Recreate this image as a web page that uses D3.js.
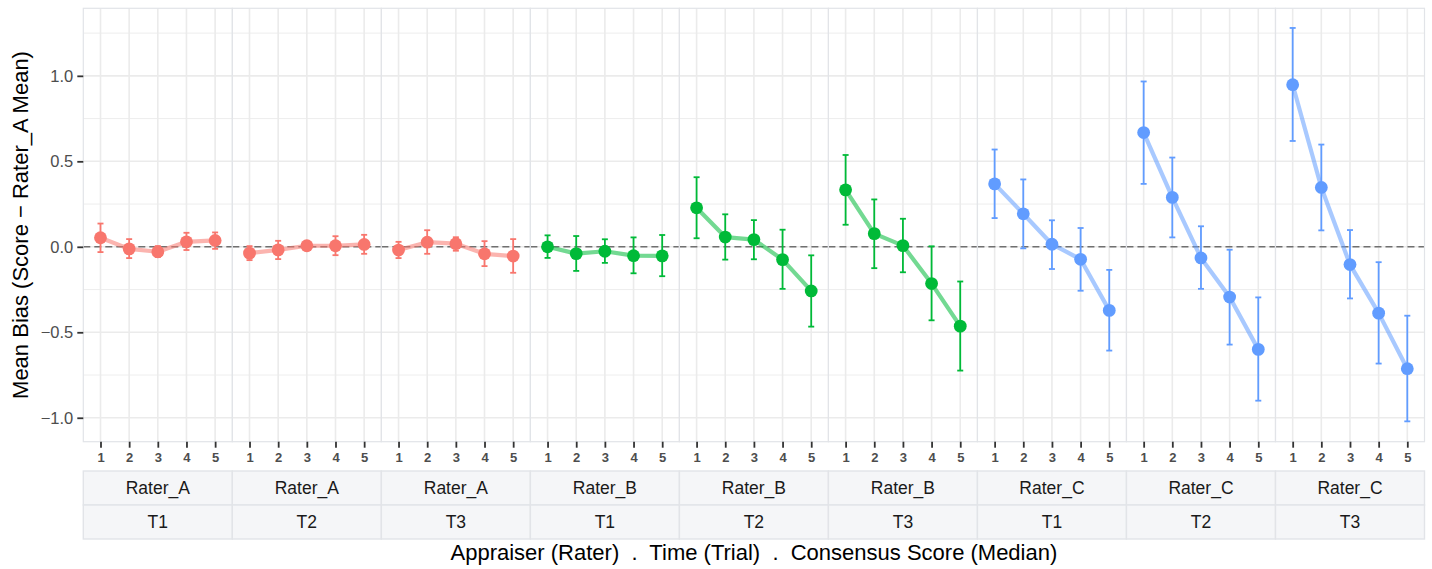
<!DOCTYPE html>
<html>
<head>
<meta charset="utf-8">
<script src="https://cdn.jsdelivr.net/npm/d3@7"></script>
<style>
  html, body { margin: 0; padding: 0; background: #fff; }
  svg { display: block; font-family: "Liberation Sans", Arial, Helvetica, sans-serif; }
</style>
</head>
<body>
<svg id="chart" width="1432" height="569"></svg>
<script>
// Facets: rater x trial, each with consensus scores 1..5
const raters = ["Rater_A", "Rater_B", "Rater_C"];
const trials = ["T1", "T2", "T3"];
const scores = ["1", "2", "3", "4", "5"];
const raterColors = ["#F8766D", "#00BA38", "#619CFF"];
const yTicks = [-1.0, -0.5, 0.0, 0.5, 1.0];
const yMinor = [-0.75, -0.25, 0.25, 0.75, 1.25];

// mean bias per facet (rater-major order: A-T1, A-T2, A-T3, B-T1, ...)
const meanBias = [
  [0.053, -0.012, -0.029, 0.029, 0.037],
  [-0.037, -0.018, 0.006, 0.006, 0.014],
  [-0.019, 0.027, 0.018, -0.041, -0.054],
  [0.000, -0.040, -0.026, -0.052, -0.053],
  [0.228, 0.057, 0.042, -0.075, -0.258],
  [0.333, 0.077, 0.007, -0.215, -0.464],
  [0.368, 0.193, 0.015, -0.073, -0.372],
  [0.668, 0.289, -0.065, -0.294, -0.600],
  [0.948, 0.347, -0.104, -0.388, -0.713]
];
// lower / upper ends of the error bars
const lowerCI = [
  [-0.031, -0.066, -0.060, -0.019, -0.012],
  [-0.078, -0.072, -0.019, -0.049, -0.041],
  [-0.066, -0.041, -0.023, -0.113, -0.152],
  [-0.065, -0.141, -0.094, -0.155, -0.172],
  [0.050, -0.075, -0.073, -0.246, -0.467],
  [0.129, -0.125, -0.149, -0.430, -0.724],
  [0.168, -0.009, -0.130, -0.257, -0.607],
  [0.368, 0.055, -0.246, -0.572, -0.900],
  [0.619, 0.096, -0.302, -0.683, -1.021]
];
const upperCI = [
  [0.136, 0.045, 0.004, 0.082, 0.084],
  [0.004, 0.035, 0.027, 0.062, 0.070],
  [0.029, 0.097, 0.056, 0.033, 0.045],
  [0.067, 0.063, 0.044, 0.055, 0.069],
  [0.407, 0.190, 0.156, 0.100, -0.050],
  [0.537, 0.277, 0.164, 0.003, -0.203],
  [0.569, 0.394, 0.155, 0.110, -0.135],
  [0.967, 0.522, 0.120, -0.017, -0.296],
  [1.280, 0.598, 0.098, -0.090, -0.403]
];

const facets = [];
raters.forEach((r, ri) => trials.forEach((t, ti) => facets.push({ rater: r, trial: t, ri })));

const svg = d3.select("#chart");
const plotLeft = 83.3, plotRight = 1424.5, plotTop = 8.3, plotBottom = 441.7;
const panelW = (plotRight - plotLeft) / facets.length;

const y = d3.scaleLinear().domain([-1.14, 1.395]).range([plotBottom, plotTop]);
const panelX = d3.scaleBand().domain(d3.range(facets.length)).range([plotLeft, plotRight]).padding(0);
const x = d3.scalePoint().domain(scores).range([0, panelW]).padding(0.6);

const gridCol = "#ebebeb";
const borderCol = "#e2e4e8";

facets.forEach((f, i) => {
  const g = svg.append("g").attr("transform", `translate(${panelX(i)},0)`);
  const col = raterColors[f.ri];

  // minor & major horizontal grid
  g.selectAll(".ymin").data(yMinor).join("line")
    .attr("x1", 0).attr("x2", panelW)
    .attr("y1", d => y(d)).attr("y2", d => y(d))
    .attr("stroke", gridCol).attr("stroke-width", 0.9);
  g.selectAll(".ymaj").data(yTicks).join("line")
    .attr("x1", 0).attr("x2", panelW)
    .attr("y1", d => y(d)).attr("y2", d => y(d))
    .attr("stroke", gridCol).attr("stroke-width", 1.6);
  // vertical grid at each score
  g.selectAll(".xmaj").data(scores).join("line")
    .attr("x1", d => x(d)).attr("x2", d => x(d))
    .attr("y1", plotTop).attr("y2", plotBottom)
    .attr("stroke", gridCol).attr("stroke-width", 1.6);

  // reference line at zero
  g.append("line")
    .attr("x1", 0).attr("x2", panelW)
    .attr("y1", y(0)).attr("y2", y(0))
    .attr("stroke", "#707070").attr("stroke-width", 1.6)
    .attr("stroke-dasharray", "7,4");

  // panel border
  g.append("rect").attr("x", 0).attr("y", plotTop)
    .attr("width", panelW).attr("height", plotBottom - plotTop)
    .attr("fill", "none").attr("stroke", borderCol).attr("stroke-width", 1.2);

  const pts = scores.map((s, k) => ({ s, m: meanBias[i][k], lo: lowerCI[i][k], hi: upperCI[i][k] }));

  // connecting line
  g.append("path").datum(pts)
    .attr("d", d3.line().x(d => x(d.s)).y(d => y(d.m)))
    .attr("fill", "none").attr("stroke", col).attr("stroke-opacity", 0.55)
    .attr("stroke-width", 4.2).attr("stroke-linejoin", "round");

  // error bars
  const eb = g.selectAll(".eb").data(pts).join("g");
  eb.append("line")
    .attr("x1", d => x(d.s)).attr("x2", d => x(d.s))
    .attr("y1", d => y(d.lo)).attr("y2", d => y(d.hi))
    .attr("stroke", col).attr("stroke-width", 1.8);
  eb.append("line")
    .attr("x1", d => x(d.s) - 3).attr("x2", d => x(d.s) + 3)
    .attr("y1", d => y(d.lo)).attr("y2", d => y(d.lo))
    .attr("stroke", col).attr("stroke-width", 1.8);
  eb.append("line")
    .attr("x1", d => x(d.s) - 3).attr("x2", d => x(d.s) + 3)
    .attr("y1", d => y(d.hi)).attr("y2", d => y(d.hi))
    .attr("stroke", col).attr("stroke-width", 1.8);

  // points
  g.selectAll(".pt").data(pts).join("circle")
    .attr("cx", d => x(d.s)).attr("cy", d => y(d.m)).attr("r", 6.4)
    .attr("fill", col);

  // x axis ticks and labels
  const ax = g.append("g").attr("transform", `translate(0,${plotBottom})`)
    .call(d3.axisBottom(x).tickSize(6).tickPadding(5));
  ax.select(".domain").remove();
  ax.selectAll(".tick line").attr("stroke", "#333").attr("stroke-width", 1.8);
  ax.selectAll(".tick text").attr("fill", "#4d4d4d").attr("font-size", 13)
    .attr("font-weight", "bold").attr("font-family", "Liberation Sans, Arial, sans-serif");

  // strips: rater then trial
  const stripTop = 471, stripMid = 505, stripBot = 539;
  [[stripTop, stripMid, f.rater], [stripMid, stripBot, f.trial]].forEach(([a, b, label]) => {
    g.append("rect").attr("x", 0).attr("y", a)
      .attr("width", panelW).attr("height", b - a)
      .attr("fill", "#f5f6f8").attr("stroke", borderCol).attr("stroke-width", 1.4);
    g.append("text").attr("x", panelW / 2).attr("y", (a + b) / 2)
      .attr("dy", "0.36em").attr("text-anchor", "middle")
      .attr("font-size", 17.5).attr("fill", "#1a1a1a").text(label);
  });
});

// y axis
const yAx = svg.append("g").attr("transform", `translate(${plotLeft},0)`)
  .call(d3.axisLeft(y).tickValues(yTicks).tickFormat(d3.format(".1f")).tickSize(6).tickPadding(4));
yAx.select(".domain").remove();
yAx.selectAll(".tick line").attr("stroke", "#333").attr("stroke-width", 1.8);
yAx.selectAll(".tick text").attr("fill", "#4d4d4d").attr("font-size", 16.5)
  .attr("font-family", "Liberation Sans, Arial, sans-serif")
  .text(d => d3.format(".1f")(d).replace("-", "\u2212"));

// axis titles
svg.append("text")
  .attr("transform", `translate(28,${(plotTop + plotBottom) / 2}) rotate(-90)`)
  .attr("text-anchor", "middle").attr("font-size", 22).attr("fill", "#000")
  .text("Mean Bias (Score \u2212 Rater_A Mean)");
svg.append("text")
  .attr("x", (plotLeft + plotRight) / 2).attr("y", 560)
  .attr("text-anchor", "middle").attr("font-size", 22).attr("fill", "#000")
  .attr("xml:space", "preserve")
  .text("Appraiser (Rater)  .  Time (Trial)  .  Consensus Score (Median)");
</script>
</body>
</html>
